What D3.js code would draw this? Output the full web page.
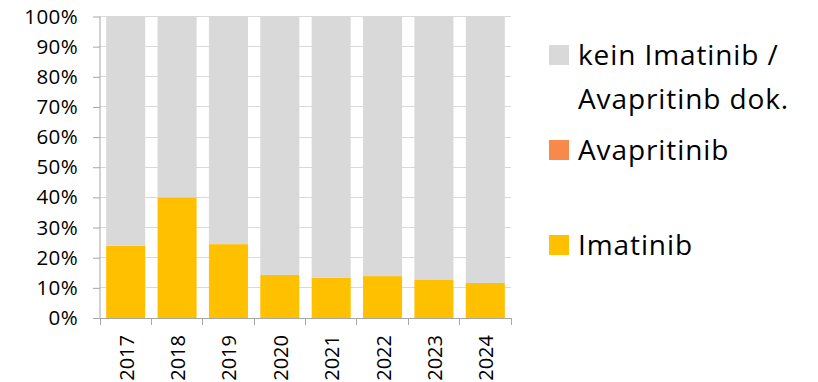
<!DOCTYPE html>
<html><head><meta charset="utf-8">
<script src="https://cdn.jsdelivr.net/npm/d3@7"></script>
<style>body{margin:0;background:#fff}svg{display:block}</style>
</head><body>
<svg id="c" width="818" height="382"></svg>
<script>
const years = ["2017","2018","2019","2020","2021","2022","2023","2024"];
const imatinib = [24.0, 40.0, 24.5, 14.3, 13.3, 13.9, 12.6, 11.6];
const avapritinib = [0, 0, 0, 0, 0, 0, 0, 0];
const keinDok = [76.0, 60.0, 75.5, 85.7, 86.7, 86.1, 87.4, 88.4];
const yTicks = [0,10,20,30,40,50,60,70,80,90,100];
const seriesNames = ["Imatinib","Avapritinib","kein Imatinib / Avapritinb dok."];
const colors = ["#ffc000","#f78a4a","#d9d9d9"];

const font = "'Open Sans', 'Noto Sans', sans-serif";
const svg = d3.select("#c");
const x = d3.scaleBand().domain(years).range([100, 511]).paddingInner(0.24).paddingOuter(0.12);
const y = d3.scaleLinear().domain([0,100]).range([318, 16.5]);

// gridlines
svg.append("g").selectAll("line").data(yTicks.slice(1)).join("line")
  .attr("x1",100).attr("x2",511).attr("y1",d=>y(d)).attr("y2",d=>y(d))
  .attr("stroke","#d9d9d9").attr("stroke-width",1).attr("shape-rendering","crispEdges");

const data = years.map((yr,i)=>({year:yr, Imatinib:imatinib[i], Avapritinib:avapritinib[i], kein:keinDok[i]}));
const stack = d3.stack().keys(["Imatinib","Avapritinib","kein"])(data);
svg.append("g").selectAll("g").data(stack).join("g").attr("fill",(d,i)=>colors[i])
  .selectAll("rect").data(d=>d).join("rect")
  .attr("x",d=>x(d.data.year)).attr("width",x.bandwidth())
  .attr("y",d=>y(d[1])).attr("height",d=>y(d[0])-y(d[1]));

// y axis
const ya = svg.append("g").attr("transform","translate(100,0)")
  .call(d3.axisLeft(y).tickValues(yTicks).tickFormat(d=>d+"%").tickSize(7).tickPadding(15));
ya.select(".domain").attr("stroke","#a6a6a6").attr("d","M0,16.5V318");
ya.selectAll(".tick line").attr("stroke","#a6a6a6");
ya.selectAll("text").attr("font-family",font).attr("font-size",20.5).attr("letter-spacing","0.4px").attr("fill","#000");

// x axis
const xa = svg.append("g").attr("transform","translate(0,318)");
xa.append("line").attr("x1",100).attr("x2",511).attr("stroke","#a6a6a6").attr("shape-rendering","crispEdges");
xa.selectAll("line.t").data(d3.range(years.length+1)).join("line").attr("class","t")
  .attr("x1",i=>100+i*(411/years.length)).attr("x2",i=>100+i*(411/years.length))
  .attr("y1",0).attr("y2",7).attr("stroke","#a6a6a6").attr("shape-rendering","crispEdges");
xa.selectAll("text").data(years).join("text")
  .attr("transform",d=>`translate(${x(d)+x.bandwidth()/2+1},17) rotate(-90)`)
  .attr("text-anchor","end").attr("dy","0.35em")
  .attr("font-family",font).attr("font-size",20).attr("fill","#000").text(d=>d);

// legend
const leg = [
  {c:colors[2], lines:["kein Imatinib /","Avapritinb dok."], y:45},
  {c:colors[1], lines:["Avapritinib"], y:140},
  {c:colors[0], lines:["Imatinib"], y:235}
];
const lg = svg.append("g");
leg.forEach(l=>{
  lg.append("rect").attr("x",549).attr("y",l.y).attr("width",20).attr("height",20).attr("fill",l.c);
  l.lines.forEach((t,j)=>{
    lg.append("text").attr("x",578).attr("y",l.y+20+j*43.5).attr("font-family",font)
      .attr("font-size",28).attr("letter-spacing","0.9px").attr("fill","#000").text(t);
  });
});
</script>
</body></html>
